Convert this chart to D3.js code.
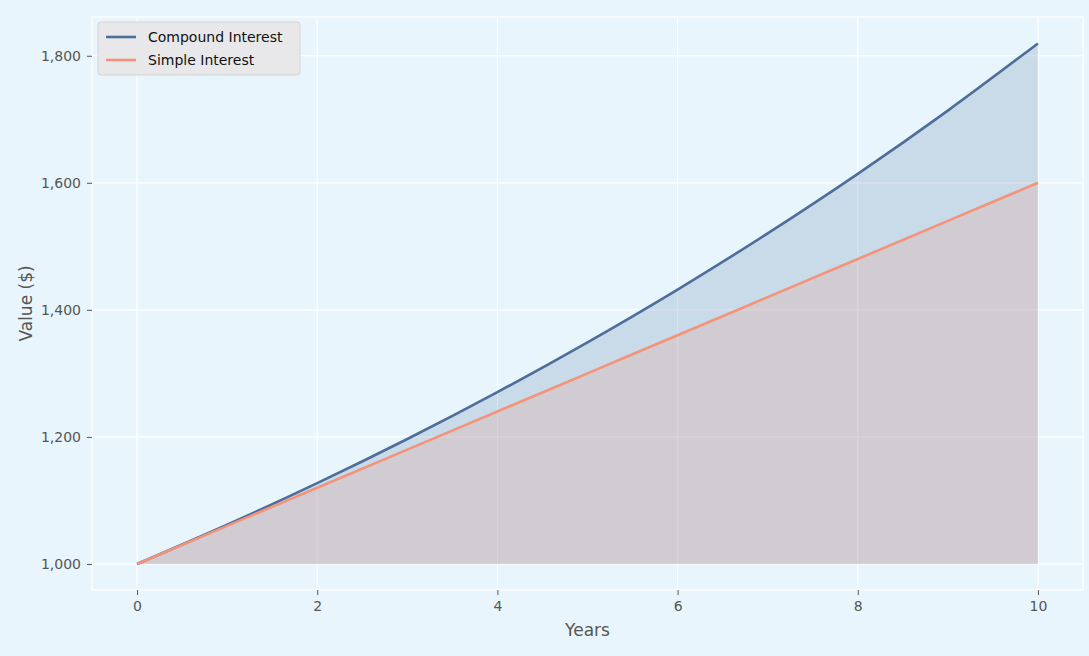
<!DOCTYPE html>
<html><head><meta charset="utf-8">
<script src="https://cdn.jsdelivr.net/npm/d3@7"></script>
<style>body{margin:0;background:#e8f5fd;font-family:"DejaVu Sans",sans-serif}</style>
</head><body>
<script>
const years = [0,1,2,3,4,5,6,7,8,9,10]
const compound = [1000,1061.7,1127.2,1196.7,1270.5,1348.9,1432.0,1520.4,1614.1,1713.7,1819.4]
const simple = [1000,1060,1120,1180,1240,1300,1360,1420,1480,1540,1600]
const yTicks = [1000,1200,1400,1600,1800]
const xTicks = [0,2,4,6,8,10]

const width = 1089, height = 656
const margin = ({top: 17, right: 6, bottom: 66, left: 92})
const data = years.map((t, i) => ({t, c: compound[i], s: simple[i]}))

const x = d3.scaleLinear().domain([-0.5, 10.5]).range([margin.left, width - margin.right])
const y = d3.scaleLinear().domain([959, 1861]).range([height - margin.bottom, margin.top])

const svg = d3.select("body").append("svg")
    .attr("viewBox", [0, 0, width, height])
    .attr("width", width).attr("height", height)

svg.append("rect").attr("width", width).attr("height", height).attr("fill", "#e8f5fd")

// grid
svg.append("g").selectAll("line").data(xTicks).join("line")
    .attr("x1", d => x(d)).attr("x2", d => x(d))
    .attr("y1", margin.top).attr("y2", height - margin.bottom)
    .attr("stroke", "#fff").attr("stroke-width", 1.2)
svg.append("g").selectAll("line").data(yTicks).join("line")
    .attr("y1", d => y(d)).attr("y2", d => y(d))
    .attr("x1", margin.left).attr("x2", width - margin.right)
    .attr("stroke", "#fff").attr("stroke-width", 1.2)
// frame
svg.append("rect").attr("x", margin.left).attr("y", margin.top)
    .attr("width", width - margin.left - margin.right)
    .attr("height", height - margin.top - margin.bottom)
    .attr("fill", "none").attr("stroke", "#fff").attr("stroke-width", 1.2)

const curve = d3.curveMonotoneX
const areaC = d3.area().curve(curve).x(d => x(d.t)).y0(y(1000)).y1(d => y(d.c))
const areaS = d3.area().curve(curve).x(d => x(d.t)).y0(y(1000)).y1(d => y(d.s))
svg.append("path").datum(data).attr("d", areaC).attr("fill", "#4e6e9a").attr("fill-opacity", 0.2)
svg.append("path").datum(data).attr("d", areaS).attr("fill", "#f4937a").attr("fill-opacity", 0.2)

const lineC = d3.line().curve(curve).x(d => x(d.t)).y(d => y(d.c))
const lineS = d3.line().curve(curve).x(d => x(d.t)).y(d => y(d.s))
svg.append("path").datum(data).attr("d", lineC).attr("fill", "none").attr("stroke", "#4e6e9a").attr("stroke-width", 2.6)
svg.append("path").datum(data).attr("d", lineS).attr("fill", "none").attr("stroke", "#f4937a").attr("stroke-width", 2.6)

// axes
const xAxis = svg.append("g").attr("transform", `translate(0,${height - margin.bottom})`)
    .call(d3.axisBottom(x).tickValues(xTicks).tickSize(5).tickPadding(6))
const yAxis = svg.append("g").attr("transform", `translate(${margin.left},0)`)
    .call(d3.axisLeft(y).tickValues(yTicks).tickSize(5).tickPadding(6))
for (const g of [xAxis, yAxis]) {
  g.select(".domain").remove()
  g.selectAll(".tick line").attr("stroke", "#555")
  g.selectAll(".tick text").attr("fill", "#555").attr("font-size", 14).attr("font-family", "DejaVu Sans")
}

svg.append("text").attr("x", (margin.left + width - margin.right) / 2).attr("y", 636)
    .attr("text-anchor", "middle").attr("fill", "#555").attr("font-size", 17).text("Years")
svg.append("text").attr("transform", `translate(32,${(margin.top + height - margin.bottom) / 2}) rotate(-90)`)
    .attr("text-anchor", "middle").attr("fill", "#555").attr("font-size", 17).text("Value ($)")

// legend
const legend = svg.append("g").attr("transform", "translate(98,22)")
legend.append("rect").attr("width", 202).attr("height", 53).attr("rx", 3)
    .attr("fill", "#e8e8ea").attr("stroke", "#d4d4d4")
const items = [["Compound Interest", "#4e6e9a"], ["Simple Interest", "#f4937a"]]
items.forEach(([name, c], i) => {
  const g = legend.append("g").attr("transform", `translate(8,${15 + i * 23})`)
  g.append("line").attr("x1", 0).attr("x2", 30).attr("stroke", c).attr("stroke-width", 2.6)
  g.append("text").attr("x", 42).attr("y", 5).attr("font-size", 14).attr("fill", "#111").text(name)
})
</script>
</body></html>
